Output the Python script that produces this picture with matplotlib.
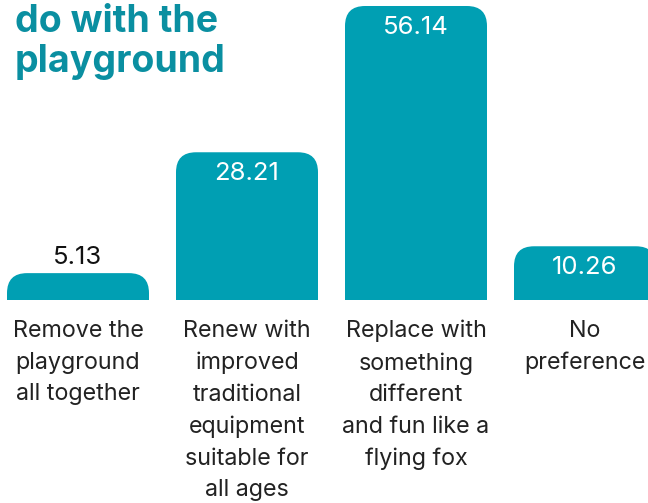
import matplotlib
matplotlib.use("Agg")
import matplotlib.pyplot as plt
from matplotlib.patches import FancyBboxPatch

categories = ["Remove the\nplayground\nall together",
              "Renew with\nimproved\ntraditional\nequipment\nsuitable for\nall ages",
              "Replace with\nsomething\ndifferent\nand fun like a\nflying fox",
              "No\npreference"]
values = [5.13, 28.21, 56.14, 10.26]
labels = ["5.13", "28.21", "56.14", "10.26"]
title_lines = ["do with the", "playground"]

BAR = "#009fb3"
TITLE = "#0a8fa1"
W, H = 648, 503
fig = plt.figure(figsize=(W/100, H/100), dpi=100)
base_px = 300
ax = fig.add_axes([0, (H-base_px)/H, 1, base_px/H])
ypp = 56.14/294.0
xpp = 1/169.0
ax.set_ylim(0, base_px*ypp)
ax.set_xlim(-78*xpp, (W-78)*xpp)
ax.axis("off")

width = 142*xpp
r = 20*xpp
aspect = ypp/xpp
for i, v in enumerate(values):
    x0 = i - width/2
    y0 = -30*ypp
    p = FancyBboxPatch((x0, y0), width, v - y0,
                       boxstyle=f"round,pad=0,rounding_size={r}",
                       mutation_aspect=aspect, facecolor=BAR, edgecolor="none")
    ax.add_patch(p)
    if v > 8:
        ax.text(i, v - 21*ypp, labels[i], ha="center", va="center",
                color="white", fontsize=18.5, family="Inter", fontweight="normal")
    else:
        ax.text(i, v + 16*ypp, labels[i], ha="center", va="center",
                color="#111111", fontsize=18.5, family="Inter", fontweight="normal")

for i, c in enumerate(categories):
    xf = (78 + 169*i)/W
    fig.text(xf, 1 - 320/H, c, ha="center", va="top", fontsize=16.8,
             family="Inter", color="#222222", linespacing=1.56)

fig.text(15/W, 1 - 32/H, title_lines[0], ha="left", va="baseline",
         fontsize=27, fontweight="bold", family="Inter", color=TITLE)
fig.text(15/W, 1 - 72/H, title_lines[1], ha="left", va="baseline",
         fontsize=27, fontweight="bold", family="Inter", color=TITLE)

fig.savefig("out.png", dpi=100)
